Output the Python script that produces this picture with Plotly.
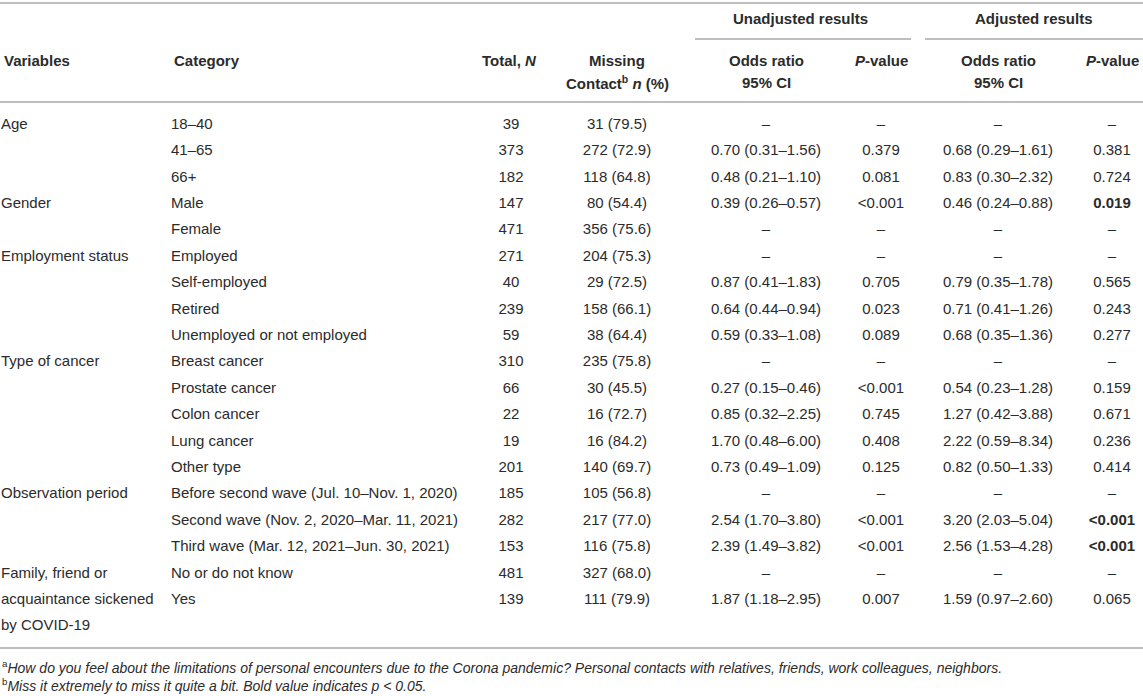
import plotly.graph_objects as go

# table contents, one entry per printed line
variables = ["Age", "", "", "Gender", "", "Employment status", "", "", "",
             "Type of cancer", "", "", "", "", "Observation period", "", "",
             "Family, friend or", "acquaintance sickened", "by COVID-19"]
categories = ["18–40", "41–65", "66+", "Male", "Female", "Employed", "Self-employed",
              "Retired", "Unemployed or not employed", "Breast cancer", "Prostate cancer",
              "Colon cancer", "Lung cancer", "Other type",
              "Before second wave (Jul. 10–Nov. 1, 2020)",
              "Second wave (Nov. 2, 2020–Mar. 11, 2021)",
              "Third wave (Mar. 12, 2021–Jun. 30, 2021)",
              "No or do not know", "Yes", ""]
totals = ["39", "373", "182", "147", "471", "271", "40", "239", "59", "310", "66",
          "22", "19", "201", "185", "282", "153", "481", "139", ""]
missing = ["31 (79.5)", "272 (72.9)", "118 (64.8)", "80 (54.4)", "356 (75.6)",
           "204 (75.3)", "29 (72.5)", "158 (66.1)", "38 (64.4)", "235 (75.8)",
           "30 (45.5)", "16 (72.7)", "16 (84.2)", "140 (69.7)", "105 (56.8)",
           "217 (77.0)", "116 (75.8)", "327 (68.0)", "111 (79.9)", ""]
or_unadj = ["–", "0.70 (0.31–1.56)", "0.48 (0.21–1.10)", "0.39 (0.26–0.57)", "–", "–",
            "0.87 (0.41–1.83)", "0.64 (0.44–0.94)", "0.59 (0.33–1.08)", "–",
            "0.27 (0.15–0.46)", "0.85 (0.32–2.25)", "1.70 (0.48–6.00)",
            "0.73 (0.49–1.09)", "–", "2.54 (1.70–3.80)", "2.39 (1.49–3.82)", "–",
            "1.87 (1.18–2.95)", ""]
p_unadj = ["–", "0.379", "0.081", "<0.001", "–", "–", "0.705", "0.023", "0.089", "–",
           "<0.001", "0.745", "0.408", "0.125", "–", "<0.001", "<0.001", "–", "0.007", ""]
or_adj = ["–", "0.68 (0.29–1.61)", "0.83 (0.30–2.32)", "0.46 (0.24–0.88)", "–", "–",
          "0.79 (0.35–1.78)", "0.71 (0.41–1.26)", "0.68 (0.35–1.36)", "–",
          "0.54 (0.23–1.28)", "1.27 (0.42–3.88)", "2.22 (0.59–8.34)",
          "0.82 (0.50–1.33)", "–", "3.20 (2.03–5.04)", "2.56 (1.53–4.28)", "–",
          "1.59 (0.97–2.60)", ""]
p_adj = ["–", "0.381", "0.724", "0.019", "–", "–", "0.565", "0.243", "0.277", "–",
         "0.159", "0.671", "0.236", "0.414", "–", "<0.001", "<0.001", "–", "0.065", ""]
p_adj_bold = [3, 15, 16]  # rows with p < 0.05

footnote_a = ("How do you feel about the limitations of personal encounters due to the "
              "Corona pandemic? Personal contacts with relatives, friends, work colleagues, neighbors.")
footnote_b = "Miss it extremely to miss it quite a bit. Bold value indicates p < 0.05."

W, H = 1143, 696
ink = "#2b2b2b"
rule = "#a8a8a8"
font = "Liberation Sans"
fs = 15

row0, step = 125, 26.4
rows_y = [row0 + i * step for i in range(len(categories))]

fig = go.Figure()

def col(texts, x, pos):
    pts = [(t, y) for t, y in zip(texts, rows_y) if t]
    fig.add_trace(go.Scatter(
        x=[x] * len(pts), y=[p[1] for p in pts], text=[p[0] for p in pts], mode="text",
        textposition=pos, textfont=dict(family=font, size=fs, color=ink),
        cliponaxis=False, hoverinfo="skip", showlegend=False))

p_adj_txt = [f"<b>{v}</b>" if i in p_adj_bold else v for i, v in enumerate(p_adj)]

col(variables, 1, "middle right")
col(categories, 171, "middle right")
col(totals, 511, "middle center")
col(missing, 617, "middle center")
col(or_unadj, 766, "middle center")
col(p_unadj, 881, "middle center")
col(or_adj, 998, "middle center")
col(p_adj_txt, 1112, "middle center")

# header
def head(text, x, y, anchor="center", size=fs):
    fig.add_annotation(x=x, y=y, text=text, xref="x", yref="y", showarrow=False,
                       xanchor=anchor, yanchor="middle",
                       font=dict(family=font, size=size, color=ink))

head("<b>Unadjusted results</b>", 800, 18)
head("<b>Adjusted results</b>", 1034, 18)
head("<b>Variables</b>", 2, 60, "left")
head("<b>Category</b>", 172, 60, "left")
head("<b>Total, <i>N</i></b>", 509, 60)
head("<b>Missing</b>", 617, 60)
head("<b>Contact<sup>b</sup> <i>n</i> (%)</b>", 617, 82)
head("<b>Odds ratio</b>", 766, 60)
head("<b>95% CI</b>", 766, 82)
head("<b><i>P</i>-value</b>", 881, 60)
head("<b>Odds ratio</b>", 998, 60)
head("<b>95% CI</b>", 998, 82)
head("<b><i>P</i>-value</b>", 1112, 60)

head("<sup>a</sup><i>" + footnote_a + "</i>", 0, 667, "left", 14)
head("<sup>b</sup><i>" + footnote_b + "</i>", 0, 685, "left", 14)

# horizontal rules
for x0, x1, y in [(0, W, 3), (695, 911, 39), (925, W, 39), (0, W, 102), (0, W, 648)]:
    fig.add_shape(type="line", x0=x0, x1=x1, y0=y, y1=y, xref="x", yref="y",
                  line=dict(color=rule, width=1.5))

fig.update_xaxes(range=[0, W], visible=False, fixedrange=True)
fig.update_yaxes(range=[H, 0], visible=False, fixedrange=True)
fig.update_layout(width=W, height=H, margin=dict(l=0, r=0, t=0, b=0),
                  plot_bgcolor="white", paper_bgcolor="white")

# drop the default page margin so the table sits flush with the window
fig.write_html("out.html", config={"displayModeBar": False},
               post_script="document.body.style.margin = '0';")
